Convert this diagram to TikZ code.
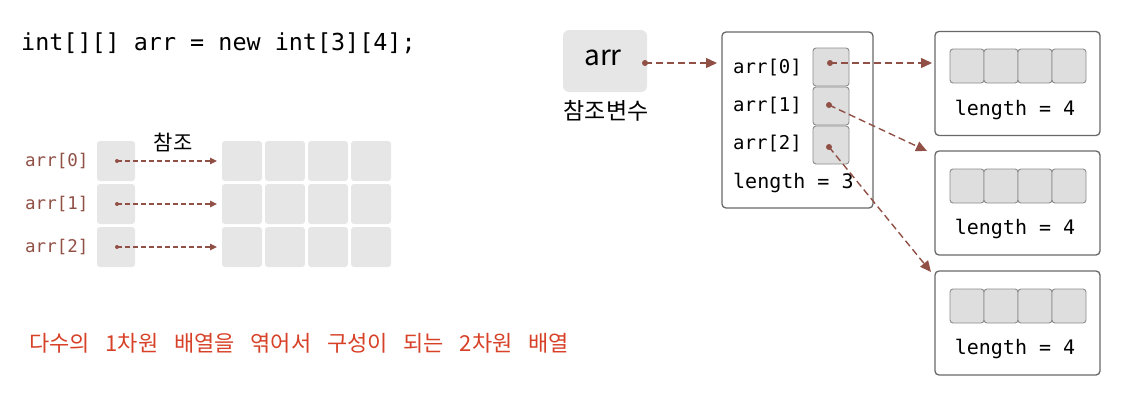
\documentclass[tikz,border=0pt]{standalone}
\usepackage{fontspec}
\usetikzlibrary{arrows.meta}
\newfontfamily\codefont{DejaVu Sans Mono}
\newfontfamily\krfont{Noto Sans CJK KR}
\newfontfamily\krwide[WordSpace=3.2]{Noto Sans CJK KR}
\definecolor{refc}{RGB}{145,80,70}
\definecolor{lgray}{RGB}{230,230,230}
\definecolor{cgray}{RGB}{222,222,222}
\definecolor{bgray}{RGB}{105,105,105}
\definecolor{cbord}{RGB}{140,140,140}
\definecolor{redtxt}{RGB}{215,65,40}
\tikzset{
  lcell/.style={fill=lgray, rounded corners=3pt, inner sep=0pt, outer sep=0pt, minimum width=38pt, minimum height=40pt},
  gcell/.style={fill=lgray, rounded corners=3pt, inner sep=0pt, outer sep=0pt, minimum width=40pt, minimum height=40pt},
  scell/.style={fill=cgray, draw=cbord, line width=0.9pt, rounded corners=3pt, inner sep=0pt, outer sep=0pt, minimum width=36pt, minimum height=38pt},
  acell/.style={fill=cgray, draw=cbord, line width=0.9pt, rounded corners=3pt, inner sep=0pt, outer sep=0pt, minimum width=34pt, minimum height=34pt},
  obox/.style={draw=bgray, line width=1.3pt, rounded corners=4pt, fill=white, inner sep=0pt, outer sep=0pt},
  dot/.style={circle, fill=refc, inner sep=0pt, minimum size=6pt},
  sdot/.style={circle, fill=refc, inner sep=0pt, minimum size=4pt},
  ref/.style={draw=refc, line width=1.4pt, dash pattern=on 7pt off 4pt, -{Triangle[length=11pt,width=10pt]}},
  sref/.style={draw=refc, line width=1.1pt, dash pattern=on 5pt off 3pt, -{Triangle[length=7pt,width=6.5pt]}, shorten >=5pt},
  lbl/.style={font=\codefont\fontsize{17.5}{18}\selectfont, text=refc, anchor=west, inner sep=0pt},
  blbl/.style={font=\codefont\fontsize{19}{19}\selectfont, anchor=west, inner sep=0pt},
  llbl/.style={font=\codefont\fontsize{20}{20}\selectfont, inner sep=0pt},
}
\begin{document}
\begin{tikzpicture}[x=1pt,y=-1pt]
\useasboundingbox (0,0) rectangle (1130,407);
% top code
\node[font=\codefont\fontsize{23.4}{24}\selectfont, anchor=west, inner sep=0pt] (code) at (21,43) {int[][] arr = new int[3][4];};
% left part
\node[lbl] (l0) at (25,161) {arr[0]};
\node[lbl] (l1) at (25,204) {arr[1]};
\node[lbl] (l2) at (25,247) {arr[2]};
\node[lcell] (c0) at (116,161) {};
\node[lcell] (c1) at (116,204) {};
\node[lcell] (c2) at (116,247) {};
\foreach \r/\y in {0/161,1/204,2/247}{
  \foreach \c/\x in {0/242,1/285,2/328,3/371}{
    \node[gcell] (g\r\c) at (\x,\y) {};
  }
}
\node[sdot] (d0) at (117,161) {};
\node[sdot] (d1) at (117,204) {};
\node[sdot] (d2) at (117,247) {};
\draw[sref] (d0.center) -- (g00.west);
\draw[sref] (d1.center) -- (g10.west);
\draw[sref] (d2.center) -- (g20.west);
\node[font=\krfont\fontsize{21}{21}\selectfont, inner sep=0pt] (cham) at (173,142) {참조};
% red caption
\node[font=\krwide\fontsize{22}{22}\selectfont, text=redtxt, anchor=west, inner sep=0pt] (cap) at (29,343) {다수의 1차원 배열을 엮어서 구성이 되는 2차원 배열};
% right part
\node[fill=lgray, rounded corners=6pt, minimum width=84pt, minimum height=62pt, inner sep=0pt, outer sep=0pt] (arrbox) at (605,61) {};
\node[font=\krfont\fontsize{28}{28}\selectfont, inner sep=0pt] (arrtxt) at (603,58) {arr};
\node[font=\krfont\fontsize{23}{23}\selectfont, inner sep=0pt] (ref) at (606,111) {참조변수};
\node[obox, minimum width=151pt, minimum height=176pt] (main) at (797.5,120) {};
\node[blbl] (m0) at (733,68) {arr[0]};
\node[blbl] (m1) at (733,106) {arr[1]};
\node[blbl] (m2) at (733,144) {arr[2]};
\node[llbl, anchor=west] (m3) at (733,183) {length = 3};
\node[scell] (s0) at (831,67) {};
\node[scell] (s1) at (831,106) {};
\node[scell] (s2) at (831,145) {};
\node[dot] (pa) at (645,63) {};
\node[dot] (p0) at (830,63) {};
\node[dot] (p1) at (829,105) {};
\node[dot] (p2) at (829,147) {};
\foreach \b/\y/\cy in {1/83.5/66,2/203/186,3/323/306}{
  \node[obox, minimum width=165pt, minimum height=104pt] (r\b) at (1017.5,\y) {};
  \foreach \c/\x in {0/967,1/1001,2/1035,3/1069}{
    \node[acell] (a\b\c) at (\x,\cy) {};
  }
  \node[llbl] (len\b) at (1015,\y+26) {length = 4};
}
\coordinate (t1) at (932,63);
\coordinate (t2) at (927,151);
\coordinate (t3) at (931,272);
\draw[ref, shorten >=5pt] (pa.center) -- (main.west |- pa);
\draw[ref] (p0.center) -- (t1);
\draw[ref] (p1.center) -- (t2);
\draw[ref] (p2.center) -- (t3);
\end{tikzpicture}
\end{document}
